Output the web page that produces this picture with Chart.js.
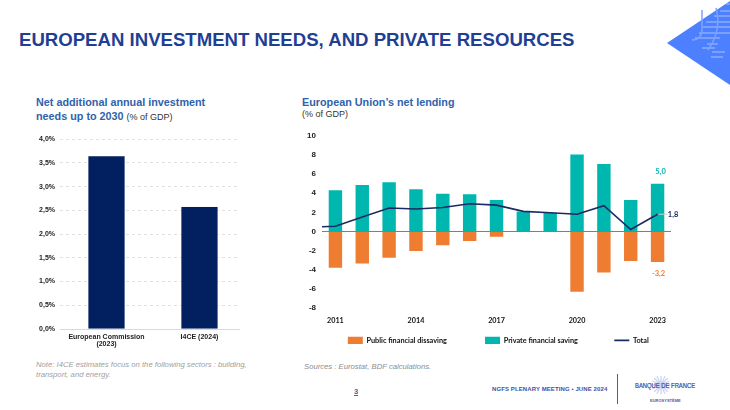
<!DOCTYPE html>
<html><head><meta charset="utf-8">
<script src="https://cdn.jsdelivr.net/npm/chart.js@4"></script>
<style>
html,body{margin:0;padding:0;background:#fff}
body{width:730px;height:410px;position:relative;overflow:hidden;font-family:"Liberation Sans",Arial,sans-serif}
.t{position:absolute;white-space:nowrap}
canvas{position:absolute}
#c1wrap,#c2wrap{position:absolute}
#c1wrap{left:20px;top:130px;width:225px;height:220px}
#c2wrap{left:290px;top:125px;width:400px;height:230px}
</style></head><body>
<svg style="position:absolute;left:640px;top:0" width="90" height="90" viewBox="0 0 90 90">
<polygon points="27,43 90,1 90,85" fill="#4d80ff"/>
<g stroke="#a9c2ff" stroke-width="1" fill="none">
<path d="M86 4H90M80 11H90M74 16H90M66 22H90M63 27H90M59 33H90M55 38H80M67 44H78M62 48H75M72 52H85M71 57H83"/>
<path d="M62 10V29Q62 40 52 40M76 8Q82 30 68 50" stroke="#7fa2ff" stroke-width="1.5"/>
</g></svg>
<div class="t" id="title" style="left:19px;top:29px;font-size:18.6px;font-weight:700;color:#1f3f94">EUROPEAN INVESTMENT NEEDS, AND PRIVATE RESOURCES</div>
<div class="t" style="left:36px;top:95px;font-size:10.8px;line-height:14px;font-weight:700;color:#2f62ab">Net additional annual investment<br>needs up to 2030 <span style="font-weight:400;font-size:9px;color:#333">(% of GDP)</span></div>
<div class="t" style="left:302px;top:95px;font-size:10.8px;line-height:14px;font-weight:700;color:#2f62ab">European Union’s net lending</div>
<div class="t" style="left:302px;top:108px;font-size:9px;line-height:13px;color:#333">(% of GDP)</div>
<div id="c1wrap"><canvas id="c1"></canvas></div>
<div id="c2wrap"><canvas id="c2"></canvas></div>
<div class="t" style="left:36px;top:360px;font-size:7.7px;line-height:10px;font-style:italic;color:#a0a0a0">Note: I4CE estimates focus on the following sectors : building,<br>transport, and energy.</div>
<div class="t" style="left:304px;top:362px;font-size:7.7px;line-height:10px;font-style:italic;color:#8c8c8c">Sources : Eurostat, BDF calculations.</div>
<div class="t" style="left:354px;top:387px;font-size:7.5px;font-weight:700;color:#3f5fb0;text-decoration:underline">3</div>
<div class="t" style="left:492px;top:386px;font-size:6px;font-weight:700;color:#3f51a5;letter-spacing:.1px">NGFS PLENARY MEETING • JUNE 2024</div>
<div style="position:absolute;left:617px;top:374px;width:1px;height:30px;background:#4a5cab"></div>
<svg style="position:absolute;left:651px;top:375px" width="20" height="20" viewBox="0 0 30 30"><g stroke="#ccd4ee" stroke-width="2"><path d="M15 1V29M1 15H29M5 5L25 25M25 5L5 25M9 2L21 28M21 2L9 28M2 9L28 21M2 21L28 9"/></g></svg>
<div class="t" style="left:635px;top:381px;font-size:7.6px;color:#31459c;-webkit-text-stroke:.2px #31459c;transform:scaleX(.77);transform-origin:left">BANQUE DE FRANCE</div>
<div class="t" style="left:650px;top:398px;font-size:4px;font-weight:700;color:#4a5cab">EUROSYSTÈME</div>
<script>
const needCategories = [["European Commission","(2023)"],"I4CE (2024)"];
const needValues = [3.65,2.58];
const needTicks = [0,0.5,1,1.5,2,2.5,3,3.5,4];

const years = [2011,2012,2013,2014,2015,2016,2017,2018,2019,2020,2021,2022,2023];
const publicDissaving = [-3.8,-3.35,-2.75,-2.05,-1.45,-1.0,-0.55,0,0,-6.3,-4.3,-3.1,-3.2];
const privateSaving = [4.3,4.85,5.15,4.4,3.95,3.9,3.3,2.1,1.95,8.05,7.05,3.3,5.0];
const totalLending = [0.55,1.5,2.45,2.35,2.5,2.9,2.75,2.1,1.95,1.8,2.7,0.2,1.8];
const totalLeadIn = 0.5;
const yearTicks = [2011,2014,2017,2020,2023];
const endLabels = ["5,0","1,8","-3,2"];

const NAVY="#02205f", TEAL="#00b7af", ORANGE="#ef7d31", LINE="#1b2a63";
const calibri='Lato, Carlito, sans-serif', arial='"Liberation Sans", Arial, sans-serif';
const legendGaps=[17,16,8];
const byYear=vals=>vals.map((v,i)=>({x:years[i],y:v}));

new Chart(document.getElementById('c1'),{
  type:'bar',
  data:{datasets:[{data:needValues.map((v,i)=>({x:i,y:v})),backgroundColor:NAVY,borderColor:'#dfe4f0',borderWidth:.5,barPercentage:.4,categoryPercentage:1}]},
  options:{responsive:true,maintainAspectRatio:false,animation:false,
    layout:{padding:{top:9,right:6,left:0,bottom:0}},
    plugins:{legend:{display:false},tooltip:{enabled:false}},
    scales:{
      x:{type:'linear',offset:false,min:-0.5,max:1.425,
        afterBuildTicks(s){s.ticks=needCategories.map((c,i)=>({value:i}))},
        grid:{display:false,drawTicks:false},border:{color:'#d9d9d9'},
        ticks:{color:'#222',font:{family:arial,size:7,weight:'bold',lineHeight:1.1},padding:4,maxRotation:0,autoSkip:false,
          callback:v=>needCategories[v]},
        afterFit(s){s.height=21}},
      y:{min:0,max:4,afterBuildTicks(s){s.ticks=needTicks.map(v=>({value:v}))},
        grid:{color:'#d4d4d4',drawTicks:false,lineWidth:.7},border:{display:false,dash:[3,3]},
        ticks:{color:'#222',font:{family:arial,size:7,weight:'bold'},padding:5,callback:v=>v.toFixed(1).replace('.',',')+'%'},
        afterFit(s){s.width=40}}
    }}
});

const endLabelPlugin={id:'endLabels',afterDatasetsDraw(ch){
  const {ctx,scales:{y}}=ch;
  const n=years.length-1, x=ch.scales.x.getPixelForValue(years[n]);
  ctx.save();ctx.font='bold 7.5px '+calibri;ctx.textAlign='center';ctx.textBaseline='middle';
  ctx.fillStyle=TEAL;ctx.fillText(endLabels[0],x+3,y.getPixelForValue(privateSaving[n])-12);
  ctx.fillStyle=ORANGE;ctx.fillText(endLabels[2],x+1,y.getPixelForValue(publicDissaving[n])+11);
  const ly=y.getPixelForValue(totalLending[n]);
  ctx.strokeStyle='#cfcfcf';ctx.lineWidth=1;ctx.beginPath();ctx.moveTo(x+1,ly);ctx.lineTo(x+10,ly);ctx.stroke();
  ctx.fillStyle=LINE;ctx.fillText(endLabels[1],x+15.5,ly);
  ctx.restore();
}};

new Chart(document.getElementById('c2'),{
  type:'bar',
  plugins:[endLabelPlugin],
  data:{datasets:[
    {label:'Public financial dissaving',data:byYear(publicDissaving),backgroundColor:ORANGE,barPercentage:.5,categoryPercentage:1,stack:'s',order:2},
    {label:'Private financial saving',data:byYear(privateSaving),backgroundColor:TEAL,barPercentage:.5,categoryPercentage:1,stack:'s',order:2},
    {label:'Total',type:'line',order:1,
      data:[{x:years[0]-0.5,y:totalLeadIn},...byYear(totalLending)],
      borderColor:LINE,backgroundColor:LINE,borderWidth:1.6,pointRadius:0,tension:0}
  ]},
  options:{responsive:true,maintainAspectRatio:false,animation:false,
    layout:{padding:{top:8.7,right:19,left:0,bottom:1}},
    plugins:{tooltip:{enabled:false},
      legend:{position:'bottom',align:'end',
        labels:{usePointStyle:true,pointStyleWidth:15,boxHeight:8,padding:8,color:'#111',
          font:{family:calibri,size:7.3,weight:'bold'},
          generateLabels(ch){return ch.data.datasets.map((d,i)=>({text:d.label+'\u00a0'.repeat(legendGaps[i]),datasetIndex:i,fillStyle:d.backgroundColor,strokeStyle:d.type==='line'?LINE:d.backgroundColor,lineWidth:d.type==='line'?1.6:0,pointStyle:d.type==='line'?'line':'rect',fontColor:'#111'}))}}}},
    scales:{
      x:{type:'linear',offset:false,stacked:true,min:years[0]-0.5,max:years[years.length-1]+0.5,
        afterBuildTicks(s){s.ticks=yearTicks.map(v=>({value:v}))},
        grid:{display:false,drawTicks:false},border:{display:false},
        ticks:{autoSkip:false,maxRotation:0,color:'#111',font:{family:calibri,size:7.2,weight:'bold'},padding:8.5,
          callback:v=>String(v)},
        afterFit(s){s.height=20.7}},
      y:{stacked:true,min:-8,max:10,
        afterBuildTicks(s){s.ticks=[-8,-6,-4,-2,0,2,4,6,8,10].map(v=>({value:v}))},
        grid:{drawTicks:false,lineWidth:c=>c.tick&&c.tick.value===0?1:0,color:'#7f7f7f',z:1},border:{display:false},
        ticks:{color:'#222',font:{family:arial,size:8,weight:'bold'},padding:6},
        afterFit(s){s.width=32}}
    }}
});
</script>
</body></html>
